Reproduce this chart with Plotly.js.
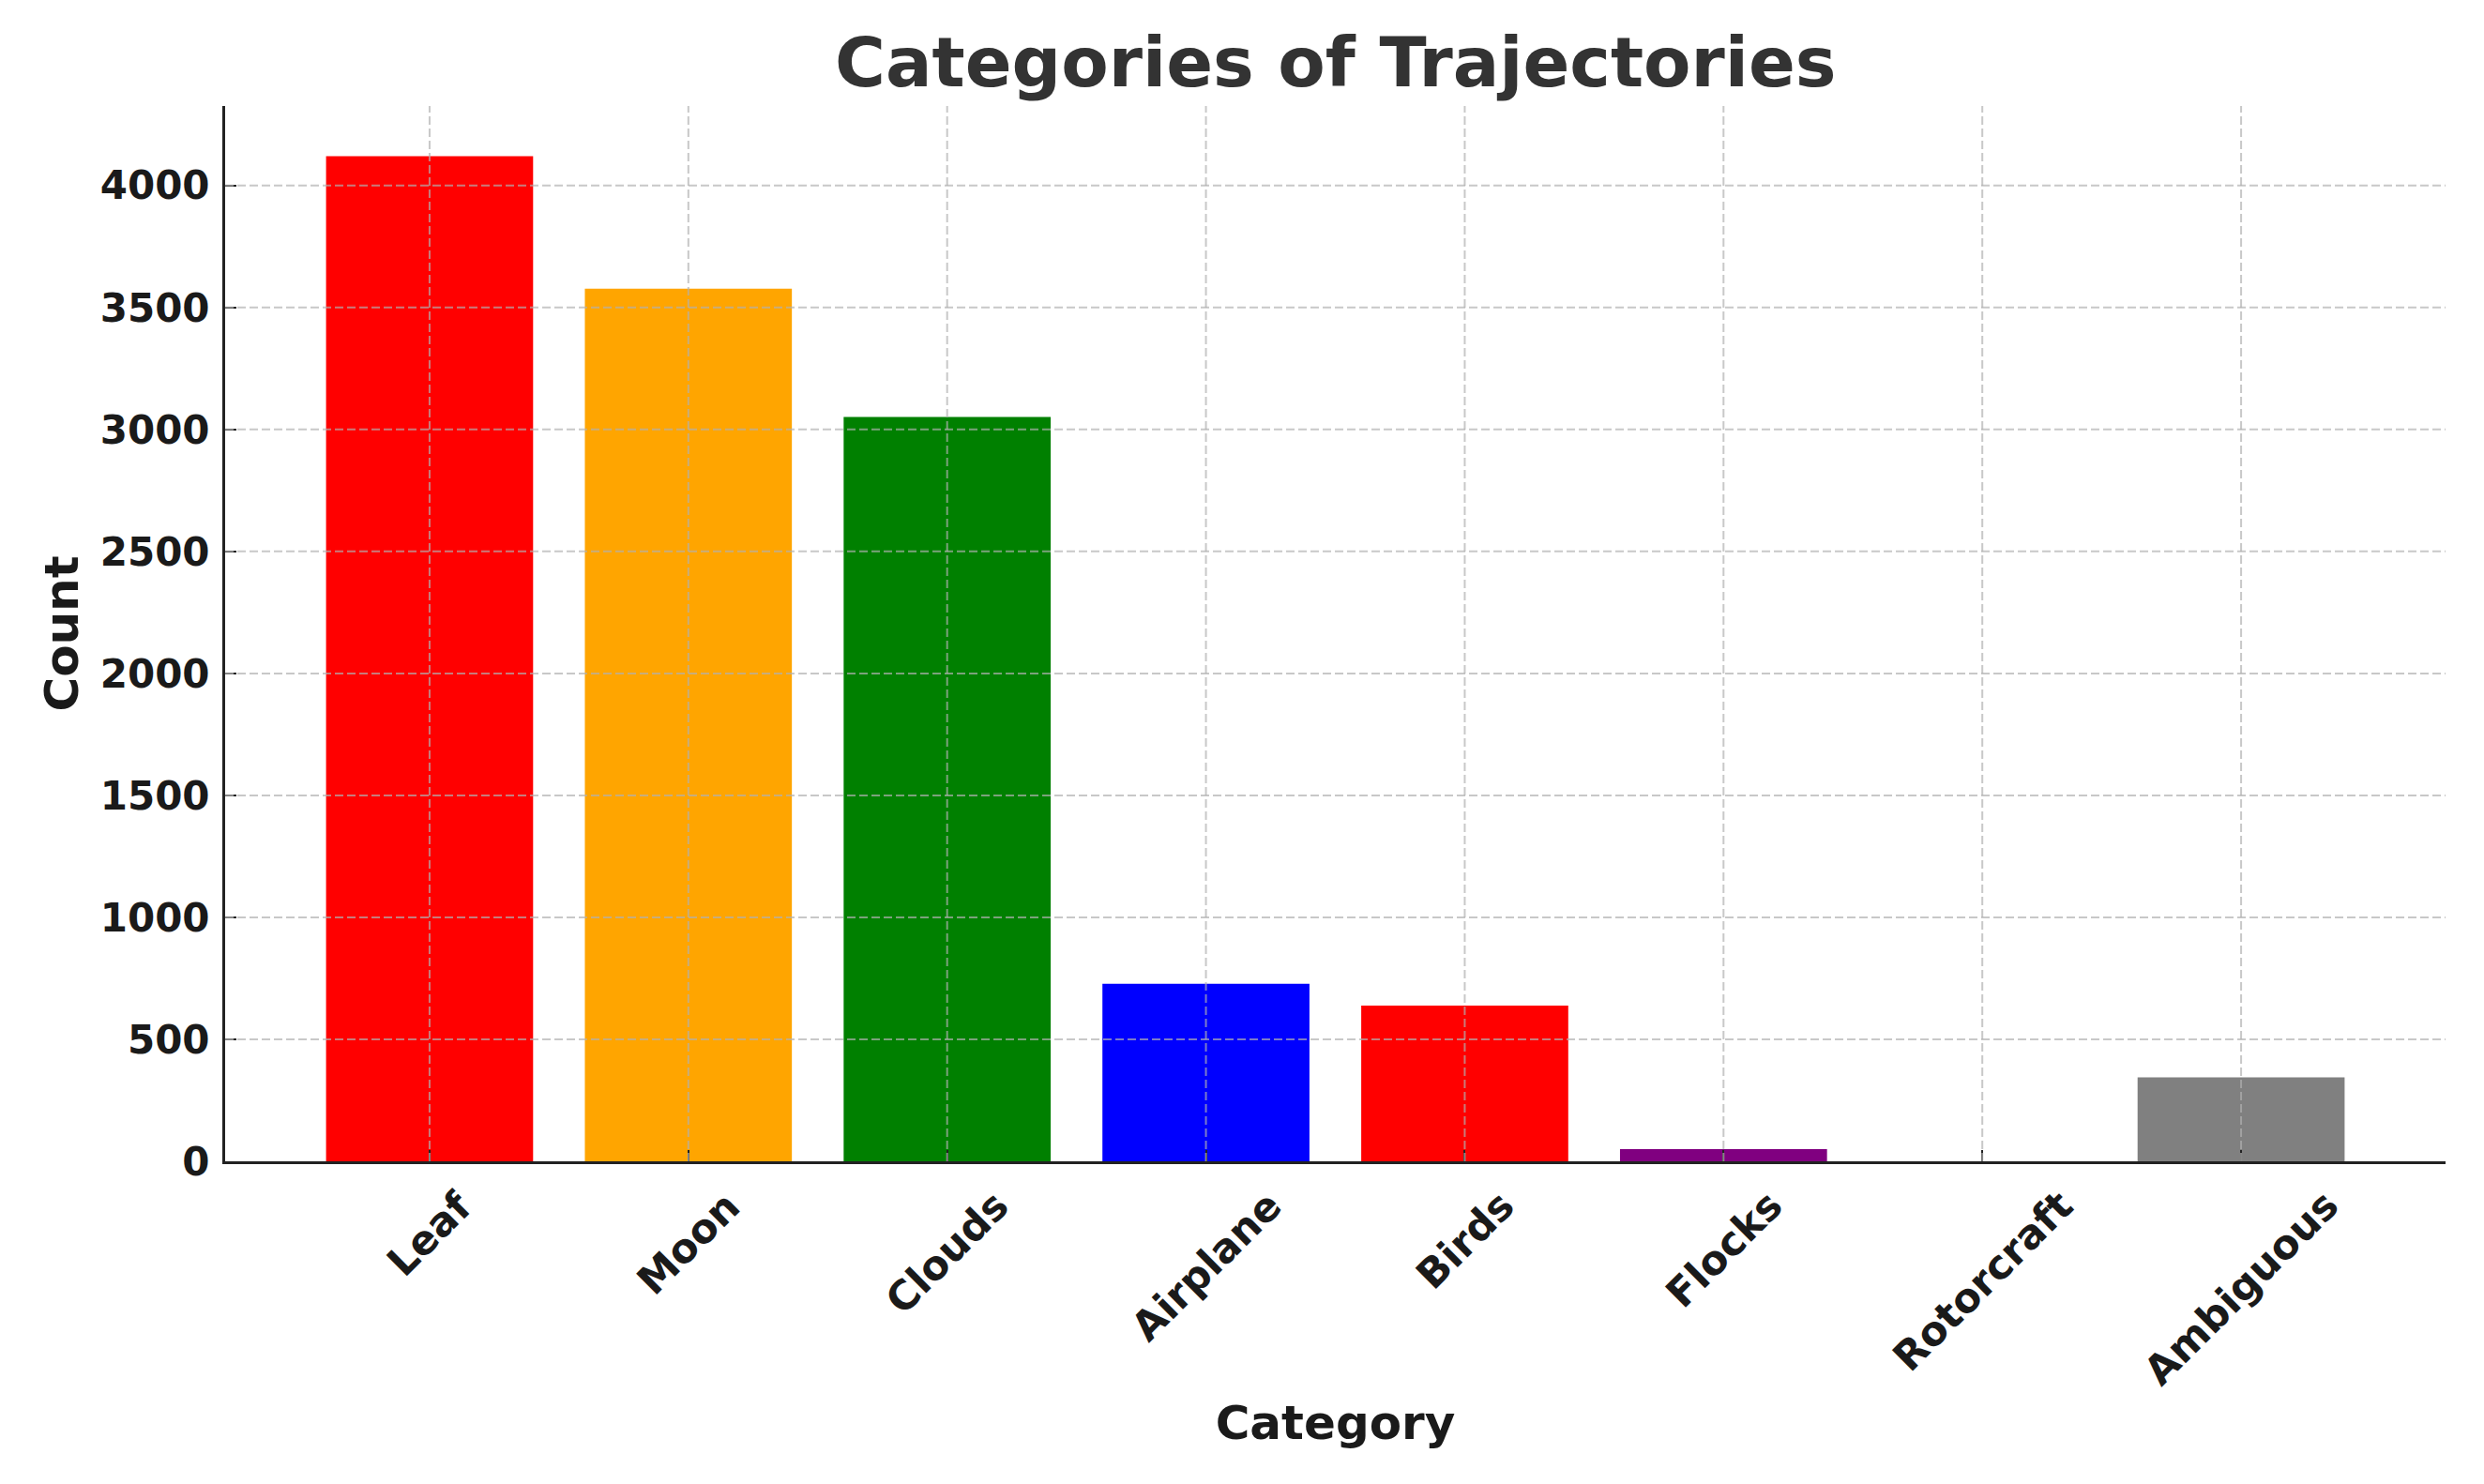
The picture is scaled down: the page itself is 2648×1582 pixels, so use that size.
<!DOCTYPE html>
<html>
<head>
<meta charset="utf-8">
<script src="https://cdn.plot.ly/plotly-3.0.1.min.js"></script>
<style>
  html, body { margin: 0; padding: 0; background: #ffffff; }
  #chart { width: 2648px; height: 1582px; }
</style>
</head>
<body>
<div id="chart"></div>
<script>
// ---- data ----
const categories = ["Leaf", "Moon", "Clouds", "Airplane", "Birds", "Flocks", "Rotorcraft", "Ambiguous"];
const counts = [4120, 3577, 3051, 728, 638, 50, 0, 344];
const barColors = ["#ff0000", "#ffa500", "#008000", "#0000ff", "#ff0000", "#800080", "#a52a2a", "#808080"];
const yTickValues = [0, 500, 1000, 1500, 2000, 2500, 3000, 3500, 4000];
const yTickLabels = ["0", "500", "1000", "1500", "2000", "2500", "3000", "3500", "4000"];

const FONT = "DejaVu Sans, Verdana, sans-serif";
const TEXT = "#1a1a1a";
const GRID = "rgba(176,176,176,0.7)";
const GRIDDASH = "9px,4px";

const nCat = categories.length;
const yMax = Math.max(...counts) * 1.05;
const xPad = 0.05 * (nCat - 1 + 0.8);

const trace = {
  type: "bar",
  x: categories,
  y: counts,
  width: 0.8,
  marker: { color: barColors, line: { width: 0 } },
  hoverinfo: "x+y"
};

// gridlines drawn above the bars (as in the reference)
const shapes = [];
yTickValues.filter(v => v > 0).forEach(v => {
  shapes.push({
    type: "line", xref: "paper", yref: "y", x0: 0, x1: 1, y0: v, y1: v,
    layer: "above", line: { color: GRID, width: 2, dash: GRIDDASH }
  });
});
categories.forEach(c => {
  shapes.push({
    type: "line", xref: "x", yref: "paper", x0: c, x1: c, y0: 0, y1: 1,
    layer: "above", line: { color: GRID, width: 2, dash: GRIDDASH }
  });
});

// rotated category labels, centred under each bar
const annotations = categories.map(c => ({
  x: c, xref: "x", y: 0, yref: "paper",
  text: c, showarrow: false, textangle: -45,
  xanchor: "center", yanchor: "top", yshift: -19,
  font: { family: FONT, size: 43, color: TEXT, weight: "bold" }
}));

const layout = {
  width: 2648,
  height: 1582,
  paper_bgcolor: "#ffffff",
  plot_bgcolor: "#ffffff",
  margin: { l: 240, r: 41, t: 113, b: 344 },
  showlegend: false,
  title: {
    text: "<b>Categories of Trajectories</b>",
    font: { family: FONT, size: 73.5, color: "#333333" },
    x: 0.5377, xanchor: "center",
    y: 1 - 66 / 1582, yanchor: "middle", yref: "container"
  },
  xaxis: {
    type: "category",
    range: [-0.4 - xPad, nCat - 1 + 0.4 + xPad],
    showticklabels: false,
    ticks: "inside", ticklen: 12, tickwidth: 2, tickcolor: "#222222",
    showline: true, linecolor: "#222222", linewidth: 3,
    showgrid: false, zeroline: false,
    layer: "above traces",
    title: {
      text: "<b>Category</b>",
      font: { family: FONT, size: 50, color: TEXT },
      standoff: 259
    }
  },
  yaxis: {
    range: [0, yMax],
    tickmode: "array", tickvals: yTickValues, ticktext: yTickLabels,
    ticks: "inside", ticklen: 12, tickwidth: 2, tickcolor: "#222222",
    ticklabelstandoff: 5,
    tickfont: { family: FONT, size: 42, color: TEXT, weight: "bold" },
    showline: true, linecolor: "#222222", linewidth: 3,
    showgrid: false, zeroline: false,
    layer: "above traces",
    title: {
      text: "<b>Count</b>",
      font: { family: FONT, size: 50, color: TEXT },
      standoff: 8
    }
  },
  shapes: shapes,
  annotations: annotations,
  bargap: 0.2
};

Plotly.newPlot("chart", [trace], layout, { displayModeBar: false, staticPlot: true });
</script>
</body>
</html>
